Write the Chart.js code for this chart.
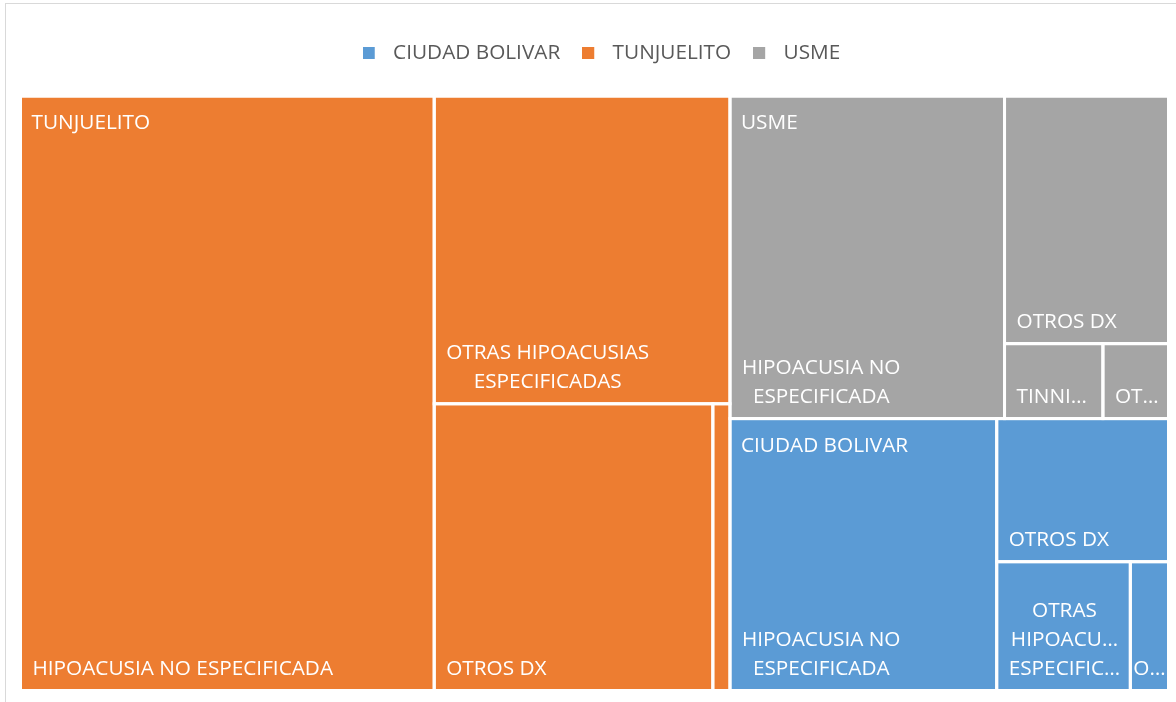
<!DOCTYPE html>
<html lang="es">
<head>
<meta charset="utf-8">
<title>Diagnósticos por localidad</title>
<script src="https://cdn.jsdelivr.net/npm/chart.js@4.4.1/dist/chart.umd.min.js"></script>
<style>
  html, body { margin: 0; padding: 0; background: #ffffff; }
  #wrap { width: 1176px; height: 702px; }
</style>
</head>
<body>
<div id="wrap"><canvas id="treemap" width="1176" height="702"></canvas></div>
<script>
// Localidades (orden de la leyenda) y colores
const localidades = ['CIUDAD BOLIVAR', 'TUNJUELITO', 'USME'];
const colores = ['#5B9BD5', '#ED7D31', '#A5A5A5'];

// Diagnósticos y casos por localidad
const ciudadBolivarDx = ['HIPOACUSIA NO ESPECIFICADA', 'OTROS DX', 'OTRAS HIPOACUSIAS ESPECIFICADAS', 'OTALGIA'];
const ciudadBolivarCasos = [59, 20, 14, 4];

const tunjuelitoDx = ['HIPOACUSIA NO ESPECIFICADA', 'OTRAS HIPOACUSIAS ESPECIFICADAS', 'OTROS DX', 'TINNITUS'];
const tunjuelitoCasos = [200, 74, 65, 4];

const usmeDx = ['HIPOACUSIA NO ESPECIFICADA', 'OTROS DX', 'TINNITUS', 'OTRAS HIPOACUSIAS ESPECIFICADAS'];
const usmeCasos = [72, 33, 6, 4];

const diagnosticos = [ciudadBolivarDx, tunjuelitoDx, usmeDx];
const casos = [ciudadBolivarCasos, tunjuelitoCasos, usmeCasos];

const FONT_SIZE = 20.75;
const FONT = FONT_SIZE + 'px "Open Sans"';

// squarified treemap (Bruls et al.) - same layout Excel uses
function worst(areas, side) {
  const s = areas.reduce((a, b) => a + b, 0);
  const mx = Math.max(...areas), mn = Math.min(...areas);
  return Math.max(side * side * mx / (s * s), (s * s) / (side * side * mn));
}

function squarify(items, rect) {
  const total = items.reduce((a, it) => a + it.value, 0);
  const sorted = items.slice().sort((a, b) => b.value - a.value);
  sorted.forEach(it => { it.area = it.value / total * rect.w * rect.h; });
  const out = [];
  let r = { ...rect };
  let rest = sorted;
  while (rest.length) {
    const side = Math.min(r.w, r.h);
    let row = [rest[0]];
    let i = 1;
    while (i < rest.length &&
           worst(row.concat(rest[i]).map(t => t.area), side) <= worst(row.map(t => t.area), side)) {
      row.push(rest[i]);
      i++;
    }
    const rowArea = row.reduce((a, t) => a + t.area, 0);
    if (r.w >= r.h) {
      const cw = rowArea / r.h;
      let yy = r.y;
      row.forEach(t => { const hh = t.area / cw; out.push({ ...t, x: r.x, y: yy, w: cw, h: hh }); yy += hh; });
      r = { x: r.x + cw, y: r.y, w: r.w - cw, h: r.h };
    } else {
      const rh = rowArea / r.w;
      let xx = r.x;
      row.forEach(t => { const ww = t.area / rh; out.push({ ...t, x: xx, y: r.y, w: ww, h: rh }); xx += ww; });
      r = { x: r.x, y: r.y + rh, w: r.w, h: r.h - rh };
    }
    rest = rest.slice(row.length);
  }
  return out;
}

// cut text to maxW, adding an ellipsis (forced = text continues after it)
function fitText(ctx, s, maxW, forced) {
  if (!forced && ctx.measureText(s).width <= maxW) return s;
  let n = forced ? s.length : s.length - 1;
  while (n > 1 && ctx.measureText(s.slice(0, n) + '…').width > maxW) n--;
  return s.slice(0, n) + '…';
}

function wrapLabel(ctx, text, maxW, maxLines) {
  let lines = [];
  let cur = '';
  text.split(' ').forEach(w => {
    const test = cur ? cur + ' ' + w : w;
    if (ctx.measureText(test).width <= maxW) {
      cur = test;
    } else {
      if (cur) lines.push(cur);
      cur = w;
    }
  });
  if (cur) lines.push(cur);
  const cut = lines.length > maxLines;
  lines = lines.slice(0, maxLines);
  return lines.map((l, k) => fitText(ctx, l, maxW, cut && k === lines.length - 1));
}

const treemapPlugin = {
  id: 'treemap',
  afterDatasetsDraw(chart) {
    const { ctx, scales: { x, y } } = chart;
    const area = {
      x: x.getPixelForValue(0),
      y: y.getPixelForValue(0),
      w: x.getPixelForValue(1) - x.getPixelForValue(0),
      h: y.getPixelForValue(1) - y.getPixelForValue(0)
    };

    const parents = squarify(localidades.map((name, i) => ({
      name, index: i, value: casos[i].reduce((a, b) => a + b, 0)
    })), area);

    const leaves = [];
    parents.forEach(p => {
      const kids = squarify(diagnosticos[p.index].map((dx, j) => ({
        name: dx, index: p.index, value: casos[p.index][j]
      })), { x: p.x, y: p.y, w: p.w, h: p.h });
      leaves.push(...kids);
    });

    ctx.save();
    // cells
    leaves.forEach(c => {
      ctx.fillStyle = colores[c.index];
      ctx.fillRect(c.x, c.y, c.w, c.h);
    });
    ctx.strokeStyle = '#ffffff';
    ctx.lineWidth = 3;
    leaves.forEach(c => ctx.strokeRect(c.x, c.y, c.w, c.h));

    // labels
    ctx.font = FONT;
    ctx.fillStyle = '#ffffff';
    ctx.textBaseline = 'alphabetic';
    const lineH = 29;

    leaves.forEach(c => {
      const avail = c.w - 20;
      const maxLines = Math.max(1, Math.floor((c.h - 30) / lineH));
      const lines = wrapLabel(ctx, c.name, Math.max(avail, 1), maxLines);
      const blockW = Math.max(...lines.map(l => ctx.measureText(l).width));
      if (blockW > c.w - 4) return; // nothing fits
      const bx = blockW <= avail ? c.x + 12 : c.x + (c.w - blockW) / 2;
      ctx.textAlign = 'center';
      const base = c.y + c.h - 15.5;
      lines.forEach((l, k) => {
        ctx.fillText(l, bx + blockW / 2, base - (lines.length - 1 - k) * lineH);
      });
    });

    ctx.textAlign = 'left';
    parents.forEach(p => {
      ctx.fillText(fitText(ctx, p.name, p.w - 22), p.x + 11, p.y + 33);
    });
    ctx.restore();
  }
};

// thin grey frame around the chart object
const framePlugin = {
  id: 'frame',
  beforeDraw(chart) {
    const ctx = chart.ctx;
    ctx.save();
    ctx.strokeStyle = '#D9D9D9';
    ctx.lineWidth = 1;
    ctx.strokeRect(5.5, 3.5, chart.width + 20, chart.height + 20);
    ctx.restore();
  }
};

// extra room under the legend, and nudge it a bit to the right
const legendMargin = {
  id: 'legendMargin',
  beforeInit(chart) {
    const fit = chart.legend.fit;
    chart.legend.fit = function() {
      fit.bind(chart.legend)();
      this.height += 22.5;
    };
  },
  afterLayout(chart) {
    chart.legend.left += 7;
    chart.legend.right += 7;
  }
};

function swatch(color) {
  const c = document.createElement('canvas');
  c.width = 20;
  c.height = 12;
  const g = c.getContext('2d');
  g.fillStyle = color;
  g.fillRect(0, 0, 12, 12);
  return c;
}
const swatches = colores.map(swatch);

new Chart(document.getElementById('treemap'), {
  type: 'scatter',
  data: {
    datasets: localidades.map((l, i) => ({ label: l, data: [], backgroundColor: colores[i] }))
  },
  options: {
    responsive: false,
    animation: false,
    devicePixelRatio: 1,
    layout: { padding: { top: 21, left: 20.5, right: 7.5, bottom: 11.5 } },
    scales: {
      x: { type: 'linear', min: 0, max: 1, display: false },
      y: { type: 'linear', min: 0, max: 1, display: false, reverse: true }
    },
    plugins: {
      tooltip: { enabled: false },
      legend: {
        position: 'top',
        labels: {
          font: { family: 'Open Sans', size: FONT_SIZE },
          color: '#595959',
          padding: 22,
          usePointStyle: true,
          pointStyleWidth: 20,
          generateLabels: () => localidades.map((l, i) => ({
            text: l,
            fillStyle: colores[i],
            strokeStyle: colores[i],
            fontColor: '#595959',
            lineWidth: 0,
            pointStyle: swatches[i],
            hidden: false,
            datasetIndex: i
          }))
        }
      }
    }
  },
  plugins: [treemapPlugin, framePlugin, legendMargin]
});
</script>
</body>
</html>
